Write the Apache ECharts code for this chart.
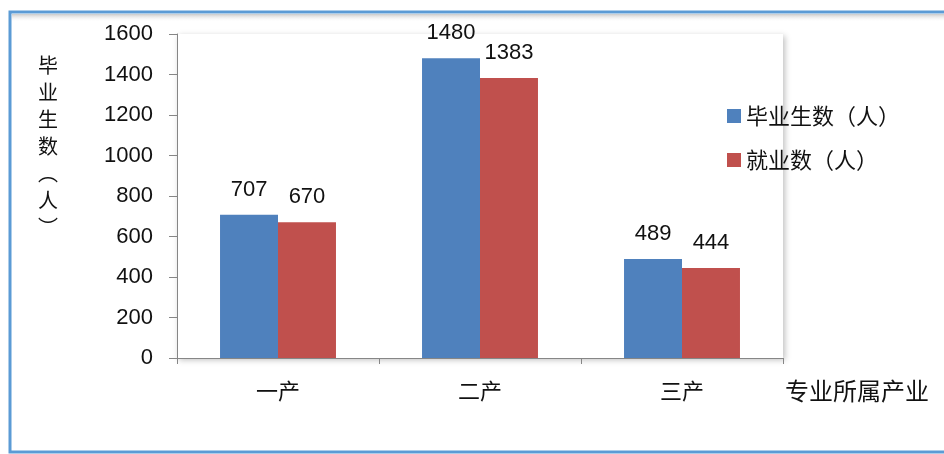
<!DOCTYPE html>
<html><head><meta charset="utf-8">
<script src="https://cdn.jsdelivr.net/npm/echarts@6/dist/echarts.min.js"></script>
<style>html,body{margin:0;padding:0;background:#fff}#c{width:944px;height:454px}</style>
</head><body><div id="c"></div>
<script>
const categories = ['一产', '二产', '三产'];
const graduates = [707, 1480, 489];
const employed = [670, 1383, 444];
const seriesNames = ['毕业生数（人）', '就业数（人）'];
const yAxisTitle = '毕\n业\n生\n数\n︵\n人\n︶';
const xAxisTitle = '专业所属产业';

const chart = echarts.init(document.getElementById('c'));
const font = '"Noto Sans CJK SC", "Noto Sans", sans-serif';
const numFont = '"Liberation Sans", Arial, sans-serif';
chart.setOption({
  animation: false,
  backgroundColor: '#fff',
  textStyle: { fontFamily: font },
  graphic: [
    { type: 'rect', shape: { x: 10, y: 12, width: 960, height: 440 },
      style: { fill: 'none', stroke: '#5b9bd5', lineWidth: 3 }, z: 0 },
    { type: 'rect', shape: { x: 12, y: 14, width: 960, height: 8 },
      style: { fill: new echarts.graphic.LinearGradient(0,0,0,1,[{offset:0,color:'rgba(150,150,150,0.5)'},{offset:1,color:'rgba(255,255,255,0)'}]) }, z: 0 },
    { type: 'text', left: 38, top: 52,
      style: { text: yAxisTitle, font: '20px ' + font, fill: '#111', lineHeight: 27, align: 'center' } }
  ],
  legend: {
    orient: 'vertical', left: 722, top: 100, itemWidth: 14, itemHeight: 14, itemGap: 22,
    icon: 'rect',
    textStyle: { fontSize: 22, color: '#111', fontFamily: font },
    data: seriesNames
  },
  grid: { left: 177, right: 161, top: 34, bottom: 96, show: true, backgroundColor: '#fff',
    borderWidth: 0, shadowColor: 'rgba(0,0,0,0.25)', shadowBlur: 6, shadowOffsetX: 2, shadowOffsetY: 2 },
  xAxis: {
    type: 'category', data: categories,
    name: xAxisTitle, nameLocation: 'end', nameGap: 2,
    nameTextStyle: { fontSize: 24, color: '#111', verticalAlign: 'top', padding: [21, 0, 0, 0] },
    axisLine: { lineStyle: { color: '#868686', width: 1 } },
    axisTick: { show: true, length: 6, lineStyle: { color: '#868686' } },
    axisLabel: { fontSize: 22, color: '#111', margin: 22 }
  },
  yAxis: {
    type: 'value', min: 0, max: 1600, interval: 200,
    axisLine: { show: true, lineStyle: { color: '#868686' } },
    axisTick: { show: true, length: 8, lineStyle: { color: '#868686' } },
    splitLine: { show: false },
    axisLabel: { fontSize: 22, color: '#111', margin: 24, fontFamily: numFont, formatter: v => String(v) }
  },
  series: [
    { name: seriesNames[0], type: 'bar', data: graduates, barGap: '0%', barCategoryGap: '42.6%',
      itemStyle: { color: '#4f81bd' },
      label: { show: true, position: 'top', distance: 14, fontSize: 22, color: '#111', fontFamily: numFont } },
    { name: seriesNames[1], type: 'bar', data: employed,
      itemStyle: { color: '#c0504d' },
      label: { show: true, position: 'top', distance: 14, fontSize: 22, color: '#111', fontFamily: numFont } }
  ]
});
</script></body></html>
